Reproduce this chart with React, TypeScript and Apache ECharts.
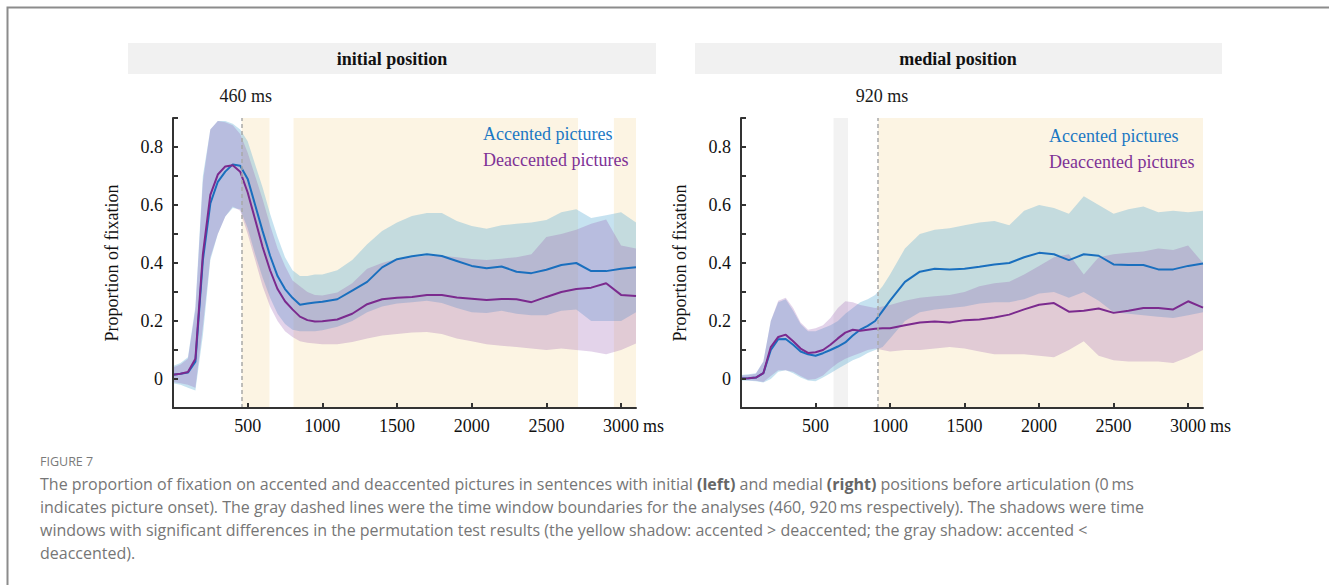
import React, { useEffect, useRef } from "react";
import * as echarts from "echarts";

// time points (ms)
const X = [0, 50, 100, 150, 200, 250, 300, 350, 400, 450, 500, 550, 600, 650, 700, 750, 800, 850, 900, 950, 1000,
  1100, 1200, 1300, 1400, 1500, 1600, 1700, 1800, 1900, 2000, 2100, 2200, 2300, 2400, 2500, 2600, 2700, 2800, 2900, 3000, 3100];

// ---- initial position (left) ----
const L_ACC_MEAN = [0.015, 0.018, 0.022, 0.06, 0.41, 0.605, 0.68, 0.715, 0.74, 0.735, 0.69, 0.6, 0.51, 0.425, 0.355, 0.31, 0.28, 0.256, 0.26, 0.264, 0.266,
  0.275, 0.305, 0.335, 0.385, 0.413, 0.423, 0.43, 0.424, 0.407, 0.39, 0.382, 0.388, 0.37, 0.365, 0.377, 0.393, 0.4, 0.372, 0.372, 0.38, 0.385];
const L_ACC_LO = [-0.015, -0.02, -0.03, -0.04, 0.15, 0.41, 0.5, 0.56, 0.59, 0.585, 0.52, 0.43, 0.35, 0.28, 0.225, 0.19, 0.17, 0.165, 0.165, 0.165, 0.168,
  0.18, 0.2, 0.23, 0.25, 0.26, 0.265, 0.27, 0.262, 0.245, 0.23, 0.228, 0.235, 0.225, 0.22, 0.22, 0.235, 0.24, 0.2, 0.2, 0.2, 0.23];
const L_ACC_HI = [0.045, 0.055, 0.075, 0.25, 0.7, 0.86, 0.89, 0.89, 0.88, 0.86, 0.82, 0.74, 0.66, 0.57, 0.49, 0.42, 0.375, 0.355, 0.355, 0.36, 0.36,
  0.375, 0.41, 0.465, 0.51, 0.54, 0.562, 0.572, 0.572, 0.545, 0.528, 0.518, 0.53, 0.535, 0.54, 0.548, 0.575, 0.585, 0.555, 0.565, 0.575, 0.54];
const L_DEA_MEAN = [0.015, 0.018, 0.024, 0.07, 0.43, 0.635, 0.705, 0.733, 0.737, 0.715, 0.643, 0.55, 0.455, 0.375, 0.31, 0.268, 0.24, 0.215, 0.203, 0.198, 0.199,
  0.205, 0.225, 0.258, 0.275, 0.28, 0.283, 0.29, 0.29, 0.281, 0.277, 0.272, 0.276, 0.275, 0.265, 0.283, 0.3, 0.31, 0.315, 0.33, 0.29, 0.286];
const L_DEA_LO = [-0.01, -0.015, -0.02, -0.03, 0.18, 0.42, 0.5, 0.56, 0.595, 0.58, 0.5, 0.41, 0.32, 0.25, 0.2, 0.165, 0.145, 0.13, 0.125, 0.122, 0.12,
  0.12, 0.128, 0.14, 0.15, 0.155, 0.16, 0.162, 0.155, 0.14, 0.13, 0.12, 0.115, 0.11, 0.105, 0.1, 0.105, 0.1, 0.095, 0.085, 0.1, 0.122];
const L_DEA_HI = [0.04, 0.05, 0.07, 0.24, 0.68, 0.86, 0.89, 0.885, 0.875, 0.845, 0.78, 0.7, 0.62, 0.53, 0.45, 0.39, 0.34, 0.32, 0.3, 0.29, 0.288,
  0.298, 0.33, 0.38, 0.4, 0.415, 0.42, 0.425, 0.425, 0.42, 0.414, 0.41, 0.415, 0.42, 0.43, 0.49, 0.5, 0.515, 0.535, 0.55, 0.46, 0.45];

// ---- medial position (right) ----
const R_ACC_MEAN = [0.002, 0.003, 0.005, 0.02, 0.1, 0.137, 0.138, 0.118, 0.095, 0.085, 0.08, 0.089, 0.1, 0.112, 0.126, 0.15, 0.17, 0.183, 0.2, 0.235, 0.27,
  0.335, 0.37, 0.38, 0.378, 0.38, 0.387, 0.395, 0.4, 0.42, 0.435, 0.43, 0.41, 0.43, 0.425, 0.395, 0.393, 0.393, 0.378, 0.378, 0.39, 0.398];
const R_ACC_LO = [-0.005, -0.006, -0.008, -0.012, 0.0, 0.025, 0.03, 0.02, 0.005, -0.005, -0.008, 0.005, 0.02, 0.035, 0.05, 0.065, 0.075, 0.09, 0.1, 0.11, 0.14,
  0.2, 0.23, 0.24, 0.245, 0.25, 0.26, 0.265, 0.265, 0.275, 0.295, 0.3, 0.28, 0.3, 0.27, 0.23, 0.225, 0.22, 0.215, 0.21, 0.22, 0.23];
const R_ACC_HI = [0.014, 0.016, 0.02, 0.06, 0.2, 0.265, 0.275, 0.235, 0.19, 0.165, 0.165, 0.175, 0.185, 0.2, 0.225, 0.245, 0.265, 0.275, 0.29, 0.32, 0.36,
  0.45, 0.5, 0.515, 0.52, 0.53, 0.54, 0.545, 0.53, 0.58, 0.6, 0.59, 0.57, 0.63, 0.6, 0.57, 0.585, 0.595, 0.575, 0.58, 0.575, 0.58];
const R_DEA_MEAN = [0.002, 0.003, 0.005, 0.02, 0.11, 0.145, 0.153, 0.13, 0.105, 0.09, 0.092, 0.1, 0.118, 0.14, 0.16, 0.17, 0.166, 0.17, 0.173, 0.175, 0.175,
  0.185, 0.195, 0.198, 0.195, 0.203, 0.205, 0.212, 0.222, 0.24, 0.256, 0.262, 0.232, 0.235, 0.243, 0.228, 0.235, 0.245, 0.245, 0.24, 0.268, 0.246];
const R_DEA_LO = [-0.003, -0.004, -0.006, -0.01, 0.01, 0.03, 0.03, 0.025, 0.01, -0.003, 0.0, 0.012, 0.035, 0.055, 0.07, 0.08, 0.09, 0.1, 0.105, 0.1, 0.095,
  0.1, 0.1, 0.105, 0.11, 0.105, 0.095, 0.085, 0.085, 0.085, 0.08, 0.075, 0.1, 0.13, 0.08, 0.065, 0.06, 0.06, 0.06, 0.055, 0.075, 0.1];
const R_DEA_HI = [0.012, 0.014, 0.018, 0.06, 0.2, 0.27, 0.28, 0.245, 0.195, 0.17, 0.175, 0.185, 0.21, 0.245, 0.268, 0.265, 0.255, 0.25, 0.245, 0.25, 0.255,
  0.27, 0.28, 0.285, 0.29, 0.3, 0.32, 0.33, 0.335, 0.36, 0.39, 0.42, 0.43, 0.36, 0.42, 0.43, 0.435, 0.44, 0.45, 0.445, 0.46, 0.4];

// significant windows [start, end] in ms
const L_YELLOW = [[460, 646], [807, 2712], [2952, 3100]];
const R_GRAY = [[621, 718]];
const R_YELLOW = [[920, 3100]];
const BOUNDARY = [460, 920];
const PANEL_TITLES = ["initial position", "medial position"];
const SERIES_NAMES = ["Accented pictures", "Deaccented pictures"];
const X_TICKS = [500, 1000, 1500, 2000, 2500, 3000];

const SERIF = "Liberation Serif";
const SANS = "Open Sans";
const BLUE = "#1a6fbe";
const PURPLE = "#7b2a8e";
const BLUE_BAND = "rgba(92,172,212,0.35)";
const PURPLE_BAND = "rgba(143,79,171,0.25)";
const YELLOW = "#fcf4e3";
const GRAY = "#f2f2f2";

function band(name: string, idx: number, lo: number[], hi: number[], color: string) {
  return {
    type: "custom",
    name,
    xAxisIndex: idx,
    yAxisIndex: idx,
    z: 2,
    silent: true,
    data: X.map((x, i) => [x, lo[i], hi[i]]),
    encode: { x: 0, y: [1, 2] },
    renderItem: (params: any, api: any) => {
      if (params.dataIndex !== 0) return null;
      const top = X.map((x, i) => api.coord([x, hi[i]]));
      const bot = X.map((x, i) => api.coord([x, lo[i]])).reverse();
      return { type: "polygon", shape: { points: top.concat(bot) }, style: { fill: color } };
    },
  };
}

function meanLine(name: string, idx: number, m: number[], color: string) {
  return {
    type: "line",
    name,
    xAxisIndex: idx,
    yAxisIndex: idx,
    z: 4,
    symbol: "none",
    silent: true,
    data: X.map((x, i) => [x, m[i]]),
    lineStyle: { color, width: 2 },
    itemStyle: { color },
  };
}

function shading(idx: number, yellow: number[][], gray: number[][], boundary: number) {
  const areas: any[] = [];
  yellow.forEach((r) => areas.push([{ xAxis: r[0], itemStyle: { color: YELLOW } }, { xAxis: r[1] }]));
  gray.forEach((r) => areas.push([{ xAxis: r[0], itemStyle: { color: GRAY } }, { xAxis: r[1] }]));
  return {
    type: "line",
    name: "windows" + idx,
    xAxisIndex: idx,
    yAxisIndex: idx,
    z: 1,
    clip: false,
    silent: true,
    data: [],
    markArea: { silent: true, data: areas },
    markLine: {
      silent: true,
      symbol: ["none", "none"],
      lineStyle: { type: [4, 3], color: "#a9a9a9", width: 1.5 },
      label: {
        show: true,
        position: "end",
        distance: 13,
        formatter: boundary + " ms",
        fontFamily: SERIF,
        fontSize: 18,
        color: "#1a1a1a",
        padding: [0, 0, 0, 8],
      },
      data: [[{ coord: [boundary, -0.1] }, { coord: [boundary, 0.9] }]],
    },
  };
}

function xAxis(idx: number) {
  return {
    type: "value",
    gridIndex: idx,
    z: 10,
    min: 0,
    max: 3100,
    interval: 500,
    name: "ms",
    nameLocation: "end",
    nameGap: 6,
    nameTextStyle: { fontFamily: SERIF, fontSize: 18, color: "#111", verticalAlign: "top", padding: [9, 0, 0, 0] },
    axisLine: { show: true, onZero: false, lineStyle: { color: "#333", width: 2 } },
    axisTick: { show: true, inside: true, length: 5, lineStyle: { color: "#333", width: 2 }, customValues: X_TICKS },
    axisLabel: {
      show: true,
      margin: 9,
      fontFamily: SERIF,
      fontSize: 18,
      color: "#111",
      customValues: X_TICKS,
      formatter: (v: number) => (v > 0 && v % 500 === 0 ? String(v) : ""),
    },
    splitLine: { show: false },
  };
}

function yAxis(idx: number) {
  return {
    type: "value",
    gridIndex: idx,
    z: 10,
    min: -0.1,
    max: 0.9,
    interval: 0.1,
    name: "Proportion of fixation",
    nameLocation: "middle",
    nameGap: 52,
    nameTextStyle: { fontFamily: SERIF, fontSize: 18, color: "#111" },
    axisLine: { show: true, onZero: false, lineStyle: { color: "#333", width: 2 } },
    axisTick: { show: true, inside: true, length: 5, lineStyle: { color: "#333", width: 2 } },
    axisLabel: {
      margin: 10,
      fontFamily: SERIF,
      fontSize: 18,
      color: "#111",
      formatter: (v: number) => {
        const k = Math.round(v * 10);
        if (k < 0 || k > 8 || k % 2 !== 0) return "";
        return k === 0 ? "0" : (k / 10).toFixed(1);
      },
    },
    splitLine: { show: false },
  };
}

function legend(left: number, top: number) {
  return {
    left,
    top,
    orient: "vertical",
    padding: 0,
    itemGap: 8,
    itemWidth: 0,
    itemHeight: 0,
    selectedMode: false,
    textStyle: { fontFamily: SERIF, fontSize: 18, lineHeight: 18 },
    data: [
      { name: SERIES_NAMES[0], textStyle: { color: "#1b78c3" } },
      { name: SERIES_NAMES[1], textStyle: { color: "#7e3296" } },
    ],
  };
}

const CAPTION = [
  "The proportion of fixation on accented and deaccented pictures in sentences with initial {b|(left)} and medial {b|(right)} positions before articulation (0\u2009ms",
  "indicates picture onset). The gray dashed lines were the time window boundaries for the analyses (460, 920\u2009ms respectively). The shadows were time",
  "windows with significant differences in the permutation test results (the yellow shadow: accented > deaccented; the gray shadow: accented <",
  "deaccented).",
];

export default function App() {
  const ref = useRef<HTMLDivElement>(null);
  useEffect(() => {
    if (!ref.current) return;
    const chart = echarts.init(ref.current, undefined, { renderer: "svg" });
    const graphics: any[] = [
      { type: "polyline", silent: true, shape: { points: [[7.5, 585], [7.5, 7.5], [1329, 7.5]] }, style: { stroke: "#8c8c8c", lineWidth: 2, fill: null } },
      { type: "rect", silent: true, shape: { x: 128, y: 43, width: 528, height: 31 }, style: { fill: "#f1f1f1" } },
      { type: "rect", silent: true, shape: { x: 695, y: 43, width: 527, height: 31 }, style: { fill: "#f1f1f1" } },
      { type: "text", silent: true, x: 392, y: 59, style: { text: PANEL_TITLES[0], fontFamily: SERIF, fontWeight: "bold", fontSize: 18, fill: "#111", align: "center", verticalAlign: "middle" } },
      { type: "text", silent: true, x: 958, y: 59, style: { text: PANEL_TITLES[1], fontFamily: SERIF, fontWeight: "bold", fontSize: 18, fill: "#111", align: "center", verticalAlign: "middle" } },
      { type: "text", silent: true, x: 40, y: 461, style: { text: "FIGURE 7", fontFamily: SANS, fontSize: 12.5, fill: "#7a7a7a", verticalAlign: "middle" } },
    ];
    CAPTION.forEach((line, i) => {
      graphics.push({
        type: "text",
        silent: true,
        x: 40,
        y: 484 + i * 23,
        style: {
          text: line,
          fontFamily: SANS,
          fontSize: 16,
          fill: "#767676",
          verticalAlign: "middle",
          rich: { b: { fontFamily: SANS, fontSize: 16, fontWeight: "bold", fill: "#666666" } },
        },
      });
    });

    chart.setOption({
      animation: false,
      backgroundColor: "#ffffff",
      grid: [
        { left: 173, top: 118, width: 463, height: 290 },
        { left: 741, top: 118, width: 462, height: 290 },
      ],
      xAxis: [xAxis(0), xAxis(1)],
      yAxis: [yAxis(0), yAxis(1)],
      legend: [legend(477, 125), legend(1043, 127)],
      series: [
        shading(0, L_YELLOW, [], BOUNDARY[0]),
        band("Accented band L", 0, L_ACC_LO, L_ACC_HI, BLUE_BAND),
        band("Deaccented band L", 0, L_DEA_LO, L_DEA_HI, PURPLE_BAND),
        meanLine(SERIES_NAMES[0], 0, L_ACC_MEAN, BLUE),
        meanLine(SERIES_NAMES[1], 0, L_DEA_MEAN, PURPLE),
        shading(1, R_YELLOW, R_GRAY, BOUNDARY[1]),
        band("Accented band R", 1, R_ACC_LO, R_ACC_HI, BLUE_BAND),
        band("Deaccented band R", 1, R_DEA_LO, R_DEA_HI, PURPLE_BAND),
        meanLine(SERIES_NAMES[0], 1, R_ACC_MEAN, BLUE),
        meanLine(SERIES_NAMES[1], 1, R_DEA_MEAN, PURPLE),
      ],
      graphic: graphics,
    });
    return () => chart.dispose();
  }, []);
  return <div ref={ref} style={{ position: "absolute", left: 0, top: 0, width: 1329, height: 585 }} />;
}
